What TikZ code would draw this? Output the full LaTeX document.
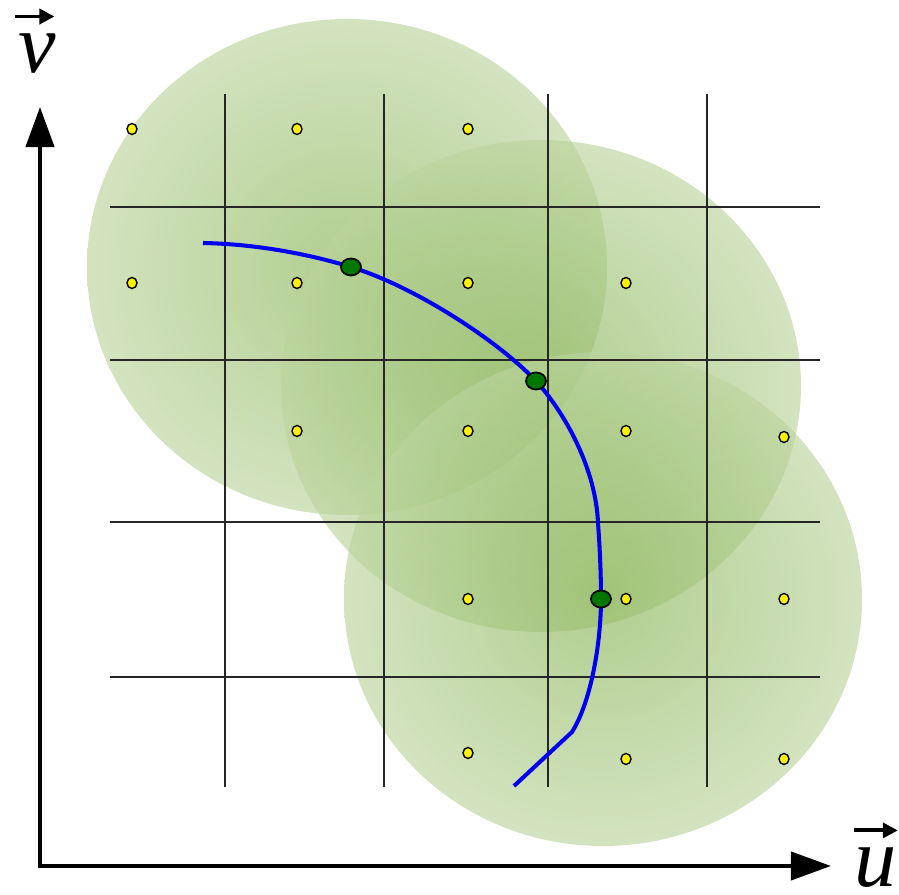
\documentclass[tikz,border=0pt]{standalone}
\usepackage{fontspec}
\usepackage{tikz}
\usetikzlibrary{positioning,arrows.meta,calc,shapes}

\newfontfamily\timesf{Liberation Serif}
\definecolor{glowin}{RGB}{135,180,85}
\definecolor{glowout}{RGB}{240,245,230}
\definecolor{curveblue}{RGB}{0,0,240}
\definecolor{sampgreen}{RGB}{0,120,0}
\pgfdeclareradialshading{glow}{\pgfpoint{0bp}{0bp}}{color(0bp)=(glowin); color(50bp)=(glowout)}

\begin{document}
\begin{tikzpicture}[
    x=0.01cm, y=-0.01cm,
    zone/.style={shading=glow, opacity=0.65},
    gridline/.style={line width=0.45pt, black!85},
    axis/.style={{Triangle[length=0.4cm, width=0.28cm]}-{Triangle[length=0.4cm, width=0.28cm]}, line width=1.15pt, line join=miter},
    vecarrow/.style={-{Triangle[length=0.15cm, width=0.15cm]}, line width=1.1pt},
    cell/.style={draw, ellipse, fill=yellow, inner sep=0pt, minimum width=0.1cm, minimum height=0.11cm, line width=0.4pt},
    hit/.style={draw, ellipse, fill=sampgreen, inner sep=0pt, minimum width=0.2cm, minimum height=0.17cm, line width=0.5pt},
    curve/.style={curveblue, line width=1.15pt, line join=round},
    lbl/.style={font=\timesf\itshape\fontsize{24}{24}\selectfont, inner sep=0pt}
]
\useasboundingbox (0,0) rectangle (899,895);

% neighbourhoods
\shade[zone] (347,267) ellipse [x radius=260, y radius=248];
\shade[zone] (541,386) ellipse [x radius=260, y radius=246];
\shade[zone] (603,599) ellipse [x radius=259, y radius=247];

% grid
\foreach \gx in {225,384,548,707}
  \draw[gridline] (\gx,94) -- (\gx,787);
\foreach \gy in {207,360,522,677}
  \draw[gridline] (110,\gy) -- (820,\gy);

% cell centres
\node[cell] (c11) at (132,129) {};
\node[cell] (c12) at (297,129) {};
\node[cell] (c13) at (468,129) {};
\node[cell] (c21) at (132,283) {};
\node[cell] (c22) at (297,283) {};
\node[cell] (c23) at (468,283) {};
\node[cell] (c24) at (626,283) {};
\node[cell] (c32) at (297,431) {};
\node[cell] (c33) at (468,431) {};
\node[cell] (c34) at (626,431) {};
\node[cell] (c35) at (784,437) {};
\node[cell] (c43) at (468,599) {};
\node[cell] (c44) at (626,599) {};
\node[cell] (c45) at (784,599) {};
\node[cell] (c53) at (468,753) {};
\node[cell] (c54) at (626,759) {};
\node[cell] (c55) at (784,759) {};

% trajectory
\coordinate (start) at (203,243);
\coordinate (p1) at (351,267);
\coordinate (p2) at (536,381);
\coordinate (steep) at (598,523);
\coordinate (p3) at (601,599);
\coordinate (bend) at (572,732);
\coordinate (stop) at (514,786);
\draw[curve] (start) .. controls (253,244) and (305,253) .. (p1)
  .. controls (413,286) and (496,339) .. (p2)
  .. controls (566,414) and (596,470) .. (steep)
  .. controls (600,550) and (601,575) .. (p3)
  .. controls (601,640) and (592,700) .. (bend) -- (stop);

% samples on the curve
\node[hit] (s1) at (p1) {};
\node[hit] (s2) at (p2) {};
\node[hit] (s3) at (p3) {};

% axes
\coordinate (origin) at (40,866);
\coordinate (vtip) at (40,107);
\coordinate (utip) at (831,866);
\draw[axis] (vtip) -- (origin) -- (utip);

\node[lbl] (vlab) at (37,54) {v};
\node[lbl] (ulab) at (876,868) {u};
\draw[vecarrow] ($(vlab.north west)+(-3,-17)$) -- ($(vlab.north east)+(-2,-17)$);
\draw[vecarrow] ($(ulab.north west)+(0,-17)$) -- ($(ulab.north east)+(0,-17)$);
\end{tikzpicture}
\end{document}
